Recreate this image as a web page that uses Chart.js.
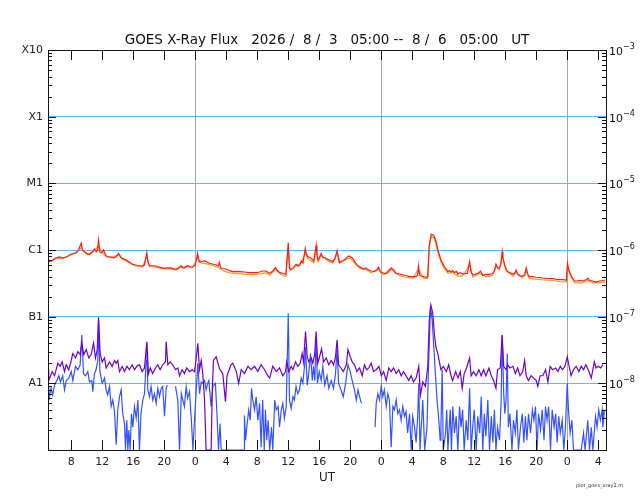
<!DOCTYPE html>
<html>
<head>
<meta charset="utf-8">
<title>GOES X-Ray Flux</title>
<script src="https://cdn.jsdelivr.net/npm/chart.js@4.4.1/dist/chart.umd.min.js"></script>
<style>
  body { margin: 0; background: #fff; }
  #wrap { width: 640px; height: 500px; }
</style>
</head>
<body>
<div id="wrap"><canvas id="xray" width="640" height="500"></canvas></div>
<script>
// tijd in uren vanaf 2026/8/3 05:00 UT, flux in nW/m^2 (1e-9 W/m^2)
const titleText = 'GOES X-Ray Flux   2026 /  8 /  3   05:00 --  8 /  6   05:00   UT';

const hourTicks = [3, 7, 11, 15, 19, 23, 27, 31, 35, 39, 43, 47, 51, 55, 59, 63, 67, 71];
const hourLabels = ['8', '12', '16', '20', '0', '4', '8', '12', '16', '20', '0', '4', '8', '12', '16', '20', '0', '4'];
const midnightHours = [19, 43, 67];

const classFlux = [1e6, 1e5, 1e4, 1e3, 1e2, 1e1];
const classLabels = ['X10', 'X1', 'M1', 'C1', 'B1', 'A1'];
const powerLabels = ['-3', '-4', '-5', '-6', '-7', '-8'];

// 1-8 A, satelliet 1 (rood)
const longRed = [[0,670],[0.45,684],[0.97,760],[1.48,790],[1.87,760],[2.39,785],[3.03,870],[3.64,900],[3.94,1000],[4.28,1270],[4.45,1000],[4.7,933],[5.1,870],[5.35,870],[5.74,940],[6.0,1035],[6.22,940],[6.39,1000],[6.52,1410],[6.68,933],[6.9,900],[7.16,1000],[7.5,820],[7.8,785],[8.15,785],[8.45,760],[8.8,790],[9.1,890],[9.45,760],[9.74,735],[10.1,708],[10.5,660],[10.9,610],[11.3,596],[11.8,580],[12.2,575],[12.45,596],[12.75,910],[12.9,660],[13.1,580],[13.5,580],[13.9,575],[14.2,560],[14.65,545],[15.0,530],[15.4,540],[15.9,540],[16.2,519],[16.55,515],[16.8,537],[17.2,580],[17.4,537],[17.6,540],[18.0,580],[18.4,556],[18.7,560],[19.0,596],[19.3,890],[19.5,660],[19.8,672],[20.2,684],[20.5,660],[20.8,632],[21.2,617],[21.7,596],[22.0,575],[22.1,655],[22.3,537],[22.6,528],[23.0,519],[23.4,490],[23.85,475],[24.3,478],[24.7,475],[25.35,468],[26.0,458],[26.4,460],[26.9,458],[27.3,468],[27.7,484],[28.1,484],[28.3,468],[28.6,446],[29.0,484],[29.35,540],[29.6,492],[29.9,458],[30.3,444],[30.7,432],[31.0,1300],[31.15,537],[31.25,515],[31.6,528],[31.8,575],[32.0,610],[32.25,575],[32.45,585],[32.7,684],[32.9,638],[33.2,1060],[33.35,870],[33.5,790],[33.7,785],[33.95,755],[34.3,684],[34.6,1170],[34.7,840],[34.85,708],[35.0,760],[35.25,890],[35.4,785],[35.7,770],[36.0,735],[36.3,708],[36.75,670],[37.0,735],[37.3,975],[37.5,760],[37.6,655],[37.9,684],[38.25,708],[38.55,770],[38.8,813],[39.0,790],[39.3,755],[39.6,660],[40.0,580],[40.3,556],[40.6,519],[41.05,540],[41.35,500],[41.7,484],[42.1,478],[42.4,500],[42.65,550],[42.85,484],[43.0,458],[43.3,452],[43.65,446],[43.9,484],[44.3,540],[44.6,500],[44.9,446],[45.35,437],[45.8,422],[46.2,415],[46.65,398],[47.1,400],[47.5,398],[47.7,422],[47.8,575],[47.95,422],[48.15,407],[48.45,400],[48.8,390],[49.0,400],[49.2,1190],[49.45,1720],[49.65,1690],[49.85,1590],[50.1,1320],[50.3,1000],[50.5,840],[50.7,708],[50.95,628],[51.15,560],[51.4,519],[51.6,475],[51.8,492],[52.0,468],[52.2,492],[52.45,460],[52.7,478],[52.9,432],[53.1,460],[53.5,437],[53.9,444],[54.1,444],[54.4,670],[54.6,468],[54.8,422],[55.2,437],[55.45,446],[55.7,468],[55.8,484],[56.1,415],[56.45,430],[56.95,432],[57.35,444],[57.6,484],[57.8,610],[58.05,537],[58.25,530],[58.45,617],[58.6,940],[58.7,760],[58.9,596],[59.1,528],[59.3,475],[59.7,452],[60.0,432],[60.2,444],[60.4,501],[60.6,437],[60.9,410],[61.2,407],[61.5,415],[61.7,540],[61.9,437],[62.1,398],[62.5,400],[63.0,390],[63.4,387],[63.8,380],[64.3,376],[64.7,374],[65.1,374],[65.6,362],[66.0,360],[66.4,360],[66.9,355],[67.03,630],[67.2,501],[67.4,444],[67.6,394],[67.95,343],[68.3,343],[68.6,349],[69.0,343],[69.35,355],[69.65,376],[69.9,349],[70.3,343],[70.65,331],[71.2,343],[71.55,349],[71.9,355]];

// 1-8 A, satelliet 2 (oranje)
const longOrange = [[0,650],[1,740],[2,760],[3,850],[4,980],[4.3,1100],[4.6,950],[5.3,850],[6,980],[6.5,1150],[7,930],[7.5,800],[8.2,770],[9.1,850],[9.7,720],[10.5,640],[11.3,575],[12.2,560],[12.75,800],[13.1,565],[14.2,545],[15,515],[15.9,525],[16.6,500],[17.2,560],[18,565],[18.7,545],[19.3,760],[19.8,640],[20.5,620],[21.2,585],[22,545],[22.6,490],[23.4,455],[24.3,445],[25.3,435],[26.4,428],[27.3,438],[28.1,452],[28.6,420],[29.35,505],[30.3,415],[30.7,405],[31.0,1050],[31.25,490],[32,575],[32.7,640],[33.2,920],[33.5,750],[34.3,645],[34.6,1000],[34.85,670],[35.25,840],[36,700],[36.75,635],[37.3,880],[37.6,625],[38.5,735],[39,755],[39.6,625],[40.3,525],[41,510],[41.7,455],[42.65,515],[43.3,425],[43.9,455],[44.3,510],[45.35,410],[46.2,390],[47.1,375],[47.8,520],[48.45,375],[49,375],[49.2,1100],[49.45,1600],[49.85,1500],[50.3,940],[50.7,665],[51.15,525],[51.6,445],[52.2,460],[52.9,405],[53.5,410],[54.4,600],[54.8,395],[55.7,440],[56.45,400],[57.35,415],[57.8,570],[58.25,500],[58.6,850],[59.1,495],[60,405],[60.4,465],[61.2,380],[61.7,500],[62.1,372],[63,365],[64.3,352],[65.1,350],[66,337],[66.9,333],[67.03,580],[67.4,415],[67.95,322],[69,322],[69.65,352],[70.3,322],[71.2,322],[71.9,333]];

// 0.5-4 A, satelliet 1 (paars)
const shortPurple = [[0,16],[0.1,11],[0.54,15],[0.84,13],[1.27,20],[1.57,18],[1.83,21],[2.13,15],[2.35,19],[2.68,16],[2.99,22],[3.2,28],[3.55,24],[3.85,30],[4.15,27],[4.36,40],[4.62,27],[4.93,32],[5.27,24],[5.57,27],[5.87,40],[6.13,24],[6.35,32],[6.52,98],[6.73,28],[6.99,21],[7.29,24],[7.5,17],[7.94,21],[8.28,18],[8.58,22],[8.8,20],[9.0,22],[9.23,15],[9.57,18],[9.87,15],[10.2,18],[10.5,16],[10.86,19],[11.16,16],[11.46,18],[11.8,19],[12.15,15],[12.45,17],[12.75,42],[12.97,14],[13.2,17],[13.5,14],[13.87,17],[14.17,19],[14.47,16],[14.8,19],[15.16,21],[15.25,42],[15.46,19],[15.77,21],[16.1,19],[16.45,16],[16.75,17],[16.97,13],[17.3,16],[17.6,14],[17.9,17],[18.26,15],[18.6,16],[18.9,15],[19.1,22],[19.33,40],[19.55,16],[19.77,22],[19.97,14],[20.2,5.6],[20.4,1],[21.05,1],[21.2,8],[21.35,22],[21.7,25],[22.1,17],[22.55,14],[22.9,5.3],[23.1,13],[23.6,19],[23.85,20],[24.3,15],[24.6,10],[24.93,16],[25.35,14],[25.8,18],[26.2,16],[26.65,18],[27.07,15],[27.5,19],[27.94,16],[28.36,13],[28.6,12],[29.0,18],[29.45,15],[29.87,17],[30.3,13],[30.65,15],[30.8,21],[31.07,15],[31.38,18],[31.6,16],[31.94,21],[32.23,18],[32.54,20],[32.8,28],[32.97,21],[33.23,60],[33.45,25],[33.65,21],[33.96,24],[34.17,20],[34.4,27],[34.6,60],[34.8,20],[35.0,24],[35.3,33],[35.55,21],[35.9,24],[36.23,19],[36.54,22],[36.84,19],[37.1,25],[37.3,45],[37.5,19],[37.8,17],[38.1,15],[38.5,19],[38.7,32],[39.0,25],[39.25,21],[39.55,19],[39.85,15],[40.2,17],[40.54,13],[40.84,19],[41.1,16],[41.4,17],[41.7,20],[42.0,15],[42.35,16],[42.7,18],[43.0,13],[43.3,15],[43.64,11],[43.97,17],[44.28,15],[44.58,17],[44.93,14],[45.26,16],[45.57,13],[45.87,15],[46.2,13],[46.55,11],[46.86,13],[47.16,10.5],[47.5,12],[47.84,18],[48.06,6.7],[48.36,10.5],[48.7,9],[49.0,18],[49.2,89],[49.4,150],[49.65,112],[49.85,56],[50.06,35],[50.3,28],[50.5,21],[50.7,16],[51.0,18],[51.4,15],[51.7,19],[52.0,13],[52.2,11],[52.6,15],[52.9,12],[53.2,15],[53.45,8.4],[53.7,14],[54.0,17],[54.4,24],[54.6,13],[54.9,15],[55.25,13],[55.6,16],[55.9,13],[56.2,16],[56.5,13],[56.9,17],[57.2,13],[57.5,11],[57.8,8.4],[58.0,16],[58.35,17],[58.6,53],[58.8,18],[59.1,16],[59.3,19],[59.6,17],[60.0,18],[60.3,14],[60.6,17],[60.9,13],[61.26,15],[61.5,22],[61.7,13],[62.0,11],[62.35,13],[62.65,12],[63.0,11],[63.2,9],[63.5,13],[63.85,13],[64.2,16],[64.5,10.5],[64.8,18],[65.1,16],[65.5,17],[65.8,15],[66.1,18],[66.4,16],[66.7,18],[67.0,25],[67.2,19],[67.5,13],[67.8,16],[68.15,18],[68.5,15],[68.8,18],[69.1,16],[69.4,19],[69.8,15],[70.1,12],[70.3,16],[70.5,21],[70.7,17],[71.0,18],[71.3,17],[71.6,19]];

// 0.5-4 A, satelliet 2 (blauw), null = geen data
const shortBlue = [[0,9],[0.1,5.6],[0.4,8.5],[0.6,6.7],[0.84,9.4],[1.14,11],[1.4,13],[1.6,10.5],[1.9,13],[2.13,8],[2.35,11],[2.68,12],[3.0,15],[3.2,11],[3.55,18],[3.85,16],[4.15,19],[4.36,53],[4.58,14],[4.84,13],[5.14,15],[5.35,10.5],[5.65,11],[5.78,7.5],[6.0,14],[6.2,16],[6.43,22],[6.52,89],[6.7,15],[7.0,10],[7.3,12],[7.5,8],[7.7,6.7],[7.94,9],[8.15,4.5],[8.36,5.6],[8.58,3.8],[8.8,1.2],[9.0,4],[9.23,6.3],[9.44,8],[9.65,3.5],[9.87,2.5],[10.0,1],[10.17,2.8],[10.3,1],[10.43,2],[10.6,1],[10.77,3.5],[10.94,2.2],[11.16,4.5],[11.38,3],[11.6,5.6],[11.8,1],[12.0,3.5],[12.23,5.6],[12.45,7],[12.67,22],[12.75,40],[12.88,8],[13.1,6.3],[13.3,9],[13.52,5.6],[13.74,7],[13.96,5],[14.17,8.4],[14.39,6.3],[14.6,8.4],[14.8,9],[15.03,3.2],[15.25,8.4],[15.4,9.4],[15.8,null],[16.45,9],[16.75,5.6],[16.97,1],[17.2,7],[17.6,4.5],[17.83,9],[18.0,6],[18.26,7.5],[18.5,2.8],[18.7,1],[18.9,2.8],[19.2,11],[19.33,20],[19.55,7],[19.77,10.5],[19.97,10],[20.2,11],[20.4,8],[20.6,10],[20.75,11],[21.05,4.5],[21.27,9],[21.6,10],[21.8,3.5],[22.0,1],[22.2,2.5],[22.35,1],[25.3,1],[25.35,3.3],[25.5,1.4],[25.65,2.2],[25.9,4],[26.1,2.8],[26.26,8.4],[26.43,5.6],[26.65,4],[26.86,6.3],[27.07,2.8],[27.3,5],[27.5,1.1],[27.7,5.6],[27.9,1],[28.06,4],[28.23,1.4],[28.4,2.8],[28.6,1],[28.84,2.2],[29.0,1],[29.26,5.6],[29.45,4],[29.7,4.5],[29.87,2.2],[30.1,4],[30.3,5],[30.5,3],[30.74,4.5],[31.0,112],[31.16,5.6],[31.38,4.2],[31.6,6.3],[31.8,5.6],[32.0,9],[32.23,7],[32.45,8],[32.67,12],[32.88,10],[33.1,18],[33.23,35],[33.45,9.4],[33.65,14],[33.87,28],[34.1,11],[34.26,18],[34.43,11],[34.6,50],[34.77,10],[35.0,15],[35.25,11],[35.46,18],[35.7,9.4],[36.0,13],[36.23,8.4],[36.54,11],[36.84,8.4],[37.1,14],[37.3,32],[37.5,10],[37.8,8],[38.1,6.3],[38.4,10],[38.7,19],[39.0,15],[39.25,11],[39.55,8],[39.77,5.6],[40.0,8],[40.2,6.3],[40.45,5],[41.0,null],[42.2,2.2],[42.35,5],[42.56,7],[42.77,5.6],[43.0,9],[43.2,6.3],[43.4,8],[43.64,4.5],[43.85,7],[44.06,5.6],[44.28,1.1],[44.5,4.5],[44.7,4],[44.93,5.6],[45.14,3.5],[45.35,4],[45.57,2.8],[45.78,4.5],[46.0,3.2],[46.2,3.8],[46.4,1.8],[46.65,3.5],[46.86,1],[47.06,3.2],[47.3,2.2],[47.5,1.3],[47.7,3.2],[47.84,10],[48.0,1],[48.1,1],[48.36,5.6],[48.6,1],[48.9,2.2],[49.1,18],[49.35,140],[49.57,89],[49.78,35],[50.0,13],[50.2,5.6],[50.43,2.8],[50.6,1.4],[50.7,2.2],[50.86,16],[51.0,1],[51.3,1.8],[51.45,4],[51.6,1],[51.9,4],[52.06,1],[52.23,4.5],[52.45,1.8],[52.67,3.2],[52.88,1],[53.1,4.5],[53.3,2.2],[53.5,4],[53.7,1],[53.96,2.8],[54.17,1.4],[54.4,8.4],[54.6,1],[54.8,2.2],[55.0,4],[55.25,1],[55.45,3.2],[55.7,1.8],[55.9,6.3],[56.1,1],[56.3,3.5],[56.5,1.6],[56.75,5.6],[56.97,1],[57.2,3.2],[57.4,1.3],[57.6,4],[57.8,1],[58.0,2.2],[58.26,1.4],[58.47,5.6],[58.6,53],[58.8,7],[58.95,3.5],[59.1,5.6],[59.26,28],[59.4,2.2],[59.6,3.5],[59.87,1],[60.06,2.8],[60.3,1.8],[60.5,4],[60.7,1],[60.97,2.2],[61.2,3.5],[61.4,1.3],[61.6,3.2],[61.8,1.4],[62.0,3.5],[62.26,1.8],[62.5,4],[62.7,2.8],[62.9,4.5],[63.1,1],[63.3,3.5],[63.55,2],[63.77,4],[64.0,1.4],[64.2,4.5],[64.4,2.8],[64.6,4.5],[64.84,1],[65.06,4],[65.3,2.2],[65.5,3.5],[65.7,1.3],[65.9,3.2],[66.1,1.8],[66.35,2.8],[66.55,1],[66.77,2.2],[67.0,10],[67.16,4],[67.37,1.8],[67.6,2.8],[67.8,1],[68.8,1],[69.1,1.8],[69.3,1],[69.65,2.8],[69.87,1],[70.1,2.2],[70.3,1],[70.65,3.2],[70.85,2.2],[71.06,4],[71.27,2.8],[71.5,4],[71.6,2.2],[71.8,4]];

const FONT = '"DejaVu Sans", sans-serif';

function toPoints(pairs) {
    return pairs.map(p => ({ x: p[0], y: p[1] }));
}

function lineSet(label, pairs, color, order) {
    return {
        label: label,
        data: toPoints(pairs),
        borderColor: color,
        borderWidth: 1.2,
        pointRadius: 0,
        tension: 0,
        spanGaps: false,
        order: order
    };
}

// frame, ticks naar binnen, titel en rechter as-labels
const goesFrame = {
    id: 'goesFrame',
    afterDraw(chart) {
        const ctx = chart.ctx;
        const a = chart.chartArea;
        const xs = chart.scales.x;
        const ys = chart.scales.y;
        ctx.save();
        ctx.strokeStyle = '#111';
        ctx.lineWidth = 1;
        ctx.beginPath();
        hourTicks.forEach(h => {
            const px = Math.round(xs.getPixelForValue(h)) + 0.5;
            ctx.moveTo(px, a.top); ctx.lineTo(px, a.top + 10);
            ctx.moveTo(px, a.bottom); ctx.lineTo(px, a.bottom - 10);
        });
        for (let d = 1; d < 1e6; d *= 10) {
            for (let m = 1; m <= 9; m++) {
                const py = Math.round(ys.getPixelForValue(d * m)) + 0.5;
                const len = m === 1 ? 8 : 4;
                ctx.moveTo(a.left, py); ctx.lineTo(a.left + len, py);
                ctx.moveTo(a.right, py); ctx.lineTo(a.right - len, py);
            }
        }
        ctx.stroke();
        ctx.strokeRect(Math.round(a.left) + 0.5, Math.round(a.top) + 0.5,
            Math.round(a.right - a.left), Math.round(a.bottom - a.top));

        ctx.fillStyle = '#111';
        ctx.font = '13.5px ' + FONT;
        ctx.textAlign = 'center';
        ctx.textBaseline = 'alphabetic';
        ctx.fillText(titleText, (a.left + a.right) / 2, 44);

        ctx.textAlign = 'left';
        classFlux.forEach((v, i) => {
            const py = ys.getPixelForValue(v);
            ctx.font = '11px ' + FONT;
            ctx.fillText('10', a.right + 3, py + 5);
            ctx.font = '8px ' + FONT;
            ctx.fillText(powerLabels[i].replace('-', '\u2212'), a.right + 17, py - 1);
        });

        ctx.font = '5px ' + FONT;
        ctx.fillStyle = '#333';
        ctx.fillText('plot_goes_xray2.m', 576, 487);
        ctx.restore();
    }
};

const ctx = document.getElementById('xray').getContext('2d');
new Chart(ctx, {
    type: 'line',
    data: {
        datasets: [
            lineSet('1-8 A (2)', longOrange, '#ff9a1a', 1),
            lineSet('1-8 A', longRed, '#ff1a1a', 0),
            lineSet('0.5-4 A', shortPurple, '#6f00c9', 2),
            lineSet('0.5-4 A (2)', shortBlue, '#3552ff', 3)
        ]
    },
    options: {
        responsive: false,
        animation: false,
        events: [],
        layout: { padding: { top: 50, left: 0, right: 0, bottom: 0 } },
        plugins: {
            legend: { display: false },
            tooltip: { enabled: false }
        },
        scales: {
            x: {
                type: 'linear',
                position: 'bottom',
                min: 0,
                max: 72,
                afterBuildTicks: (scale) => { scale.ticks = hourTicks.map(h => ({ value: h })); },
                afterFit: (scale) => { scale.height = 50; },
                ticks: {
                    autoSkip: false,
                    maxRotation: 0,
                    padding: 6,
                    color: '#222',
                    font: { family: FONT, size: 11 },
                    callback: (v, i) => hourLabels[i]
                },
                grid: {
                    drawTicks: false,
                    lineWidth: 1,
                    color: (c) => (c.tick && midnightHours.includes(c.tick.value)) ? '#a6a6a6' : 'rgba(0,0,0,0)'
                },
                border: { display: false },
                title: {
                    display: true,
                    text: 'UT',
                    color: '#222',
                    font: { family: FONT, size: 12 },
                    padding: { top: 0, bottom: 15 }
                }
            },
            y: {
                type: 'logarithmic',
                position: 'left',
                min: 1,
                max: 1e6,
                afterBuildTicks: (scale) => { scale.ticks = classFlux.map(v => ({ value: v })); },
                afterFit: (scale) => { scale.width = 48; },
                ticks: {
                    autoSkip: false,
                    padding: 5,
                    color: '#222',
                    font: { family: FONT, size: 11 },
                    callback: (v, i) => classLabels[i]
                },
                grid: {
                    drawTicks: false,
                    lineWidth: 1,
                    color: (c) => (c.tick && c.tick.value > 1 && c.tick.value < 1e6) ? '#62b8ff' : 'rgba(0,0,0,0)'
                },
                border: { display: false }
            },
            y2: {
                type: 'logarithmic',
                position: 'right',
                min: 1,
                max: 1e6,
                afterFit: (scale) => { scale.width = 34; },
                ticks: { display: false },
                grid: { drawOnChartArea: false, drawTicks: false },
                border: { display: false }
            }
        }
    },
    plugins: [goesFrame]
});
</script>
</body>
</html>
